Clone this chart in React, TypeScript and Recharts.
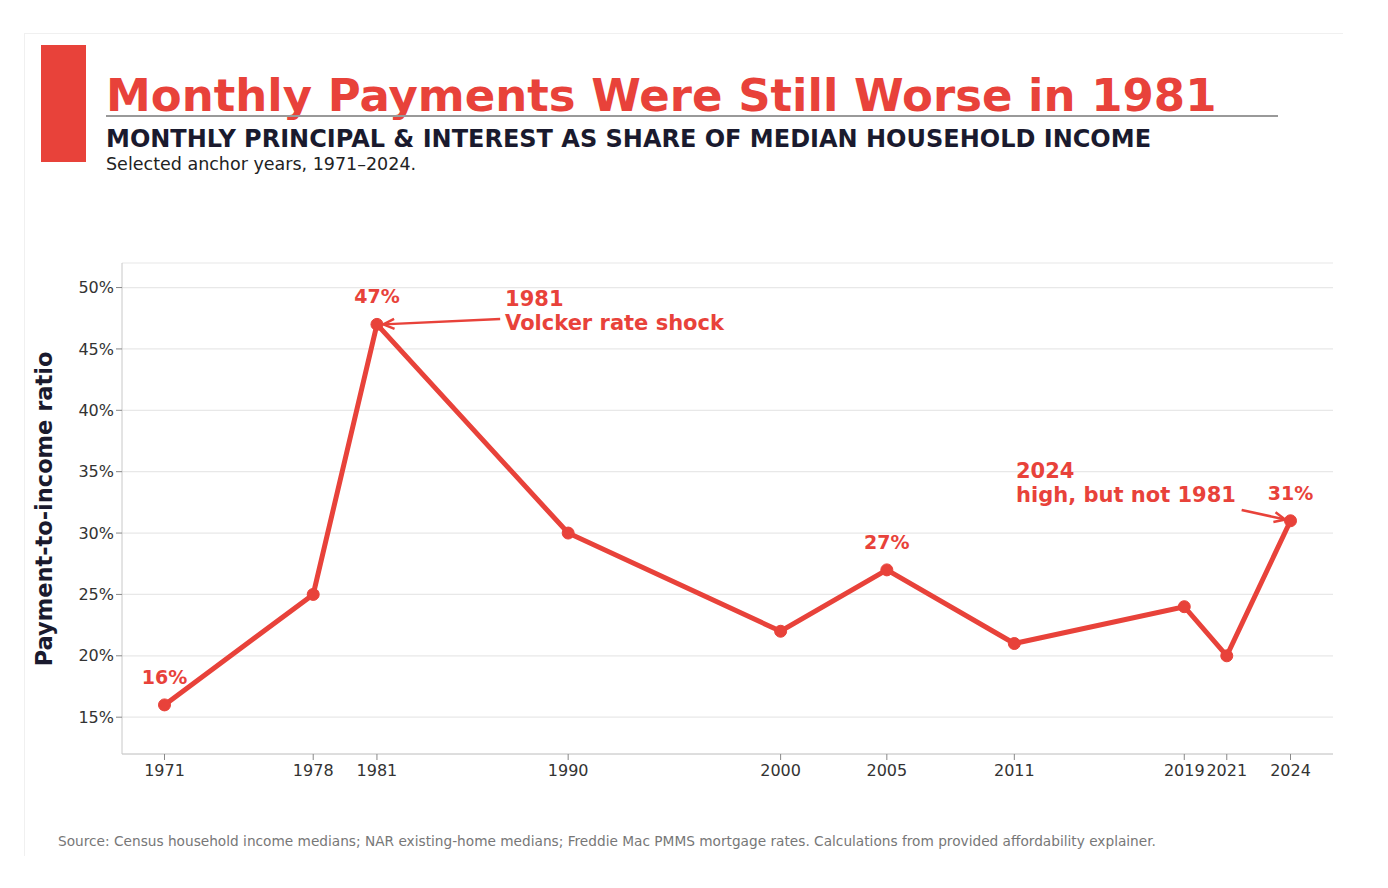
import React from "react";
import { LineChart, Line, XAxis, YAxis, CartesianGrid, LabelList, ReferenceDot, ReferenceLine } from "recharts";

const years = [1971, 1978, 1981, 1990, 2000, 2005, 2011, 2019, 2021, 2024];
const ratios = [16, 25, 47, 30, 22, 27, 21, 24, 20, 31];
const yTicks = [15, 20, 25, 30, 35, 40, 45, 50];
const labeledYears = [1971, 1981, 2005, 2024];

const data = years.map((year, i) => ({ year, ratio: ratios[i] }));

const RED = "#E8423A";
const FONT = "'DejaVu Sans', sans-serif";

const annotations = [
  { x: 1987.03, y: 48.5, lines: ["1981", "Volcker rate shock"] },
  { x: 2011.08, y: 34.48, lines: ["2024", "high, but not 1981"] },
];

const arrows = [
  { from: [1986.8, 47.44], to: [1981.3, 47.0] },
  { from: [2021.7, 31.88], to: [2023.75, 31.1] },
];

const ArrowShape = (props: any) => {
  const { x1, y1, x2, y2 } = props;
  if ([x1, y1, x2, y2].some((v) => v === undefined || isNaN(v))) return null;
  const ang = Math.atan2(y2 - y1, x2 - x1);
  const L = 11;
  const W = 5;
  const bx = x2 - L * Math.cos(ang);
  const by = y2 - L * Math.sin(ang);
  const px = -Math.sin(ang) * W;
  const py = Math.cos(ang) * W;
  return (
    <g>
      <line x1={x1} y1={y1} x2={x2} y2={y2} stroke={RED} strokeWidth={2.5} />
      <path d={`M${bx + px},${by + py} L${x2},${y2} L${bx - px},${by - py}`} fill="none" stroke={RED} strokeWidth={2.5} />
    </g>
  );
};

const ValueLabel = (props: any) => {
  const { x, y, index, value } = props;
  if (!labeledYears.includes(years[index])) return null;
  return (
    <text x={x} y={y - 21} textAnchor="middle" fill={RED} fontFamily={FONT} fontWeight="bold" fontSize={19}>
      {`${value}%`}
    </text>
  );
};

export default function App() {
  return (
    <div style={{ position: "absolute", left: 0, top: 0, width: 1388, height: 888, background: "#fff", overflow: "hidden", fontFamily: FONT }}>
      <div style={{ position: "absolute", left: 24, top: 33, width: 1318, height: 822, borderTop: "1px solid #f0f0f0", borderLeft: "1px solid #f0f0f0" }} />
      <div style={{ position: "absolute", left: 41, top: 45, width: 45, height: 117, background: RED }} />
      <div style={{ position: "absolute", left: 106, top: 69, fontSize: 45, fontWeight: "bold", color: RED, whiteSpace: "nowrap", lineHeight: "54px" }}>
        Monthly Payments Were Still Worse in 1981
      </div>
      <div style={{ position: "absolute", left: 106, top: 115, width: 1172, height: 2, background: "#999" }} />
      <div style={{ position: "absolute", left: 106, top: 124, fontSize: 24, fontWeight: "bold", color: "#1a1a2e", whiteSpace: "nowrap", lineHeight: "30px" }}>
        MONTHLY PRINCIPAL &amp; INTEREST AS SHARE OF MEDIAN HOUSEHOLD INCOME
      </div>
      <div style={{ position: "absolute", left: 106, top: 153, fontSize: 17.5, color: "#222", whiteSpace: "nowrap", lineHeight: "22px" }}>
        Selected anchor years, 1971–2024.
      </div>
      <div style={{ position: "absolute", left: 44, top: 509, transform: "translate(-50%, -50%) rotate(-90deg)", fontSize: 22.5, fontWeight: "bold", color: "#1a1a2e", whiteSpace: "nowrap" }}>
        Payment-to-income ratio
      </div>
      <div style={{ position: "absolute", left: 58, top: 833, fontSize: 13.7, color: "#777", whiteSpace: "nowrap" }}>
        Source: Census household income medians; NAR existing-home medians; Freddie Mac PMMS mortgage rates. Calculations from provided affordability explainer.
      </div>
      <div style={{ position: "absolute", left: 0, top: 0 }}>
        <LineChart width={1388} height={888} data={data} margin={{ top: 263, right: 55, bottom: 104, left: 62 }}>
          <CartesianGrid vertical={false} stroke="#e8e8e8" strokeWidth={1.2} />
          <XAxis
            dataKey="year"
            type="number"
            domain={[1969, 2026]}
            ticks={years}
            interval={0}
            height={30}
            stroke="#c8c8c8"
            tickLine={{ stroke: "#888" }}
            tickSize={6}
            tickMargin={5}
            tick={{ fill: "#333", fontSize: 16, fontFamily: FONT }}
            allowDataOverflow
          />
          <YAxis
            type="number"
            domain={[12, 52]}
            ticks={yTicks}
            width={60}
            stroke="#c8c8c8"
            tickLine={{ stroke: "#888" }}
            tickSize={6}
            tickFormatter={(v: number) => `${v}%`}
            tick={{ fill: "#333", fontSize: 16, fontFamily: FONT }}
            allowDataOverflow
          />
          {arrows.map((a, i) => (
            <ReferenceLine
              key={`arr${i}`}
              segment={[{ x: a.from[0], y: a.from[1] }, { x: a.to[0], y: a.to[1] }]}
              shape={ArrowShape}
              ifOverflow="visible"
            />
          ))}
          <Line
            dataKey="ratio"
            stroke={RED}
            strokeWidth={5}
            dot={{ r: 6, fill: RED, stroke: RED, strokeWidth: 1 }}
            isAnimationActive={false}
          >
            <LabelList dataKey="ratio" content={ValueLabel} />
          </Line>
          {annotations.map((a, i) => (
            <ReferenceDot
              key={`ann${i}`}
              x={a.x}
              y={a.y}
              r={0}
              ifOverflow="visible"
              shape={(p: any) => (
                <text x={p.cx} y={p.cy} fill={RED} fontFamily={FONT} fontWeight="bold" fontSize={21}>
                  {a.lines.map((ln, j) => (
                    <tspan key={j} x={p.cx} dy={j === 0 ? 0 : 24}>
                      {ln}
                    </tspan>
                  ))}
                </text>
              )}
            />
          ))}
        </LineChart>
      </div>
    </div>
  );
}
